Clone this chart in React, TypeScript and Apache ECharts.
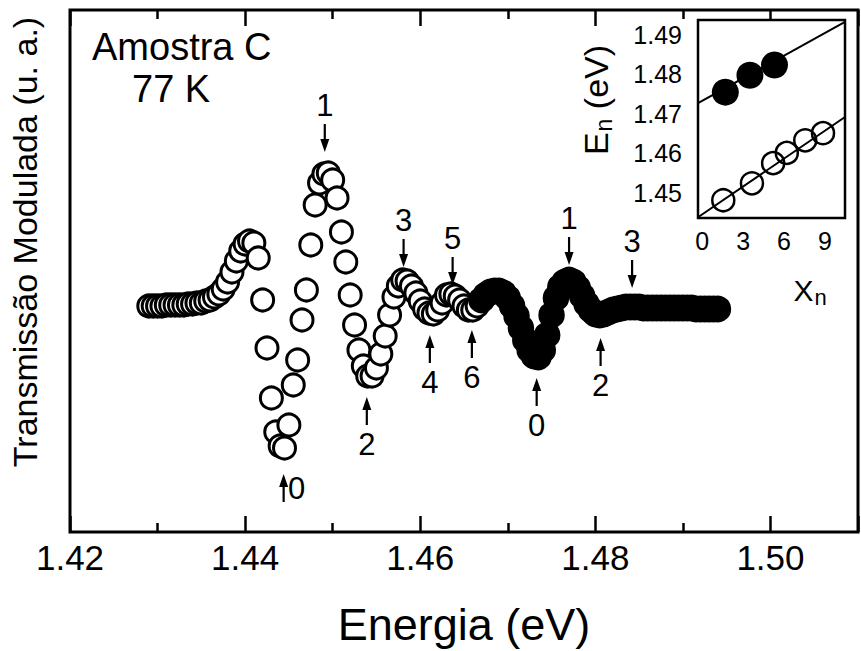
import React, { useEffect, useRef } from 'react';
import * as echarts from 'echarts';

const FONT = '"Liberation Sans", Arial, Helvetica, sans-serif';

// Main spectrum: photon energy (eV) and modulated transmission (arb. units)
const E_OPEN = [
  1.4290, 1.4295, 1.4300, 1.4305, 1.4310, 1.4315, 1.4320, 1.4325, 1.4330, 1.4335,
  1.4340, 1.4345, 1.4350, 1.4355, 1.4360, 1.4365, 1.4370, 1.4375, 1.4380, 1.4385,
  1.4390, 1.4395, 1.4400, 1.4405, 1.4410, 1.4415, 1.4420, 1.4425, 1.4430, 1.4435,
  1.4440, 1.4445, 1.4450, 1.4455, 1.4460, 1.4465, 1.4470, 1.4475, 1.4480, 1.4485,
  1.4490, 1.4495, 1.4500, 1.4505, 1.4510, 1.4515, 1.4520, 1.4525, 1.4530, 1.4535,
  1.4540, 1.4545, 1.4550, 1.4555, 1.4560, 1.4565, 1.4570, 1.4575, 1.4580, 1.4585,
  1.4590, 1.4595, 1.4600, 1.4605, 1.4610, 1.4615, 1.4620, 1.4625, 1.4630, 1.4635,
  1.4640, 1.4645, 1.4650, 1.4655, 1.4660, 1.4665,
];
const T_OPEN = [
  -1, -1, -1, -1, 0, 0, 0, 0, 0, 1,
  1, 2, 2, 4, 5, 8, 11, 16, 23, 33,
  44, 54, 61, 64, 62, 47, 5, -43, -93, -127,
  -141, -143, -120, -80, -55, -15, 15, 60, 100, 122,
  131, 132, 125, 107, 73, 43, 10, -20, -45, -61,
  -71, -71, -63, -49, -31, -10, 8, 19, 25, 24,
  19, 12, 4, -4, -8, -9, -5, 2, 10, 11,
  9, 5, -1, -5, -5, -1,
];
const E_FILLED = [
  1.4670, 1.4675, 1.4680, 1.4685, 1.4690, 1.4695, 1.4700, 1.4705, 1.4710, 1.4715,
  1.4720, 1.4725, 1.4730, 1.4735, 1.4740, 1.4745, 1.4750, 1.4755, 1.4760, 1.4765,
  1.4770, 1.4775, 1.4780, 1.4785, 1.4790, 1.4795, 1.4800, 1.4805, 1.4810, 1.4815,
  1.4820, 1.4825, 1.4830, 1.4835, 1.4840, 1.4845, 1.4850, 1.4855, 1.4860, 1.4865,
  1.4870, 1.4875, 1.4880, 1.4885, 1.4890, 1.4895, 1.4900, 1.4905, 1.4910, 1.4915,
  1.4920, 1.4925, 1.4930, 1.4935, 1.4940,
];
const T_FILLED = [
  5, 10, 13, 14, 14, 12, 7, -1, -11, -23,
  -35, -45, -51, -52, -45, -30, -10, 7, 18, 23,
  25, 23, 17, 9, 1, -5, -9, -10, -9, -7,
  -5, -4, -3, -2, -2, -2, -2, -3, -3, -3,
  -3, -3, -3, -3, -3, -3, -3, -3, -3, -4,
  -4, -4, -4, -4, -4,
];

// Annotations: label, energy, signal at arrow tip, direction
const ANN_LABELS = ['1', '3', '5', '1', '3', '2', '4', '6', '0', '2', '0'];
const ANN_E = [1.4491, 1.4581, 1.4637, 1.4770, 1.4842, 1.4539, 1.4611, 1.4659, 1.4733, 1.4806, 1.4444];
const ANN_T = [153, 38, 20, 40, 17, -92, -30, -25, -73, -33, -169];
const ANN_DIR = ['down', 'down', 'down', 'down', 'down', 'up', 'up', 'up', 'up', 'up', 'side'];

// Inset: E_n versus X_n
const INSET_X_FILLED = [1.7, 3.5, 5.3];
const INSET_E_FILLED = [1.4755, 1.4798, 1.4824];
const INSET_X_OPEN = [1.55, 3.65, 5.2, 6.2, 7.55, 8.85];
const INSET_E_OPEN = [1.4481, 1.4524, 1.4575, 1.4601, 1.4633, 1.4651];
const FIT_UPPER_X = [-0.3, 10.46];
const FIT_UPPER_E = [1.4727, 1.4933];
const FIT_LOWER_X = [-0.3, 10.46];
const FIT_LOWER_E = [1.4438, 1.4692];

const zip = (a: number[], b: number[]) => a.map((v, i) => [v, b[i]]);

export default function App() {
  const ref = useRef<HTMLDivElement>(null);
  useEffect(() => {
    document.body.style.margin = '0';
    if (!ref.current) return;
    const chart = echarts.init(ref.current, undefined, { renderer: 'svg' });

    const tickStyle = { color: '#000', width: 2.5 };
    const mainX = (position: 'bottom' | 'top', showLabel: boolean) => ({
      gridIndex: 0,
      type: 'value',
      min: 1.42,
      max: 1.51,
      interval: 0.02,
      position,
      axisLine: { show: false, onZero: false },
      axisTick: { show: true, inside: true, length: 16, lineStyle: tickStyle },
      minorTick: { show: true, splitNumber: 2, length: 9, lineStyle: tickStyle },
      splitLine: { show: false },
      minorSplitLine: { show: false },
      axisLabel: {
        show: showLabel,
        fontSize: 35,
        fontFamily: FONT,
        color: '#000',
        margin: 8,
        showMaxLabel: false,
        formatter: (v: number) => v.toFixed(2),
      },
    });
    const insetTick = { color: '#000', width: 2 };
    const insetX = (position: 'bottom' | 'top', showLabel: boolean) => ({
      gridIndex: 1,
      type: 'value',
      min: -0.3,
      max: 10.46,
      splitNumber: 4,
      position,
      axisLine: { show: false, onZero: false },
      axisTick: { show: true, inside: true, length: 9, lineStyle: insetTick },
      minorTick: { show: true, splitNumber: 2, length: 6, lineStyle: insetTick },
      splitLine: { show: false },
      minorSplitLine: { show: false },
      axisLabel: {
        show: showLabel,
        fontSize: 25,
        fontFamily: FONT,
        color: '#000',
        margin: 10,
        showMinLabel: false,
        showMaxLabel: false,
        formatter: (v: number) => String(Math.round(v)),
      },
    });
    const insetY = (position: 'left' | 'right', showLabel: boolean) => ({
      gridIndex: 1,
      type: 'value',
      min: 1.4436,
      max: 1.4938,
      splitNumber: 5,
      position,
      axisLine: { show: false, onZero: false },
      axisTick: { show: true, inside: true, length: 9, lineStyle: insetTick },
      minorTick: { show: true, splitNumber: 2, length: 6, lineStyle: insetTick },
      splitLine: { show: false },
      minorSplitLine: { show: false },
      axisLabel: {
        show: showLabel,
        fontSize: 25,
        fontFamily: FONT,
        color: '#000',
        margin: 16,
        showMinLabel: false,
        showMaxLabel: false,
        formatter: (v: number) => v.toFixed(2),
      },
    });

    const option: any = {
      animation: false,
      backgroundColor: '#fff',
      grid: [
        { left: 70, top: 10, width: 788, height: 522, show: true, borderColor: '#000', borderWidth: 3, backgroundColor: 'transparent' },
        { left: 698, top: 20, width: 147, height: 198, show: true, borderColor: '#000', borderWidth: 2.5, backgroundColor: '#fff', z: 5 },
      ],
      xAxis: [mainX('bottom', true), mainX('top', false), insetX('bottom', true), insetX('top', false)],
      yAxis: [
        { gridIndex: 0, type: 'value', min: -227, max: 295, axisLine: { show: false, onZero: false }, axisTick: { show: false }, axisLabel: { show: false }, splitLine: { show: false } },
        insetY('left', true),
        insetY('right', false),
      ],
      series: [
        {
          type: 'scatter', xAxisIndex: 0, yAxisIndex: 0,
          data: zip(E_OPEN, T_OPEN), symbol: 'circle', symbolSize: 22,
          itemStyle: { color: '#fff', borderColor: '#000', borderWidth: 3, opacity: 1 },
          z: 3,
        },
        {
          type: 'scatter', xAxisIndex: 0, yAxisIndex: 0,
          data: zip(E_FILLED, T_FILLED), symbol: 'circle', symbolSize: 25,
          itemStyle: { color: '#000', borderColor: '#000', borderWidth: 1.5, opacity: 1 },
          z: 3,
        },
        {
          type: 'scatter', xAxisIndex: 2, yAxisIndex: 1,
          data: zip(INSET_X_OPEN, INSET_E_OPEN), symbol: 'circle', symbolSize: 22,
          itemStyle: { color: 'rgba(255,255,255,0)', borderColor: '#000', borderWidth: 2.5, opacity: 1 },
          z: 6,
        },
        {
          type: 'scatter', xAxisIndex: 2, yAxisIndex: 1,
          data: zip(INSET_X_FILLED, INSET_E_FILLED), symbol: 'circle', symbolSize: 27,
          itemStyle: { color: '#000', opacity: 1 },
          z: 6,
        },
        {
          type: 'line', xAxisIndex: 2, yAxisIndex: 1, data: zip(FIT_UPPER_X, FIT_UPPER_E),
          symbol: 'none', lineStyle: { color: '#000', width: 2 }, clip: true, z: 7,
        },
        {
          type: 'line', xAxisIndex: 2, yAxisIndex: 1, data: zip(FIT_LOWER_X, FIT_LOWER_E),
          symbol: 'none', lineStyle: { color: '#000', width: 2 }, clip: true, z: 7,
        },
      ],
    };
    chart.setOption(option);

    const graphics: any[] = [];
    const txt = (text: string, x: number, y: number, size: number, align = 'center', extra: any = {}) => ({
      type: 'text', x, y, z: 20, ...extra,
      style: { text, fontSize: size, fontFamily: FONT, fill: '#000', align, verticalAlign: 'middle' },
    });
    graphics.push(txt('Amostra C', 92, 47, 38, 'left'));
    graphics.push(txt('77 K', 132, 89, 38, 'left'));
    graphics.push(txt('Energia (eV)', 464, 624, 45, 'center'));
    graphics.push(txt('Transmissão Modulada (u. a.)', 25, 242, 34, 'center', { rotation: Math.PI / 2 }));

    // Inset axis titles
    graphics.push({
      type: 'text', x: 810, y: 290, z: 20,
      style: {
        text: '{a|X}{b|n}', align: 'center', verticalAlign: 'middle',
        rich: {
          a: { fontSize: 30, fontFamily: FONT, fill: '#000', color: '#000' },
          b: { fontSize: 22, fontFamily: FONT, fill: '#000', color: '#000', padding: [14, 0, 0, 1] },
        },
      },
    });
    graphics.push({
      type: 'text', x: 596, y: 100, z: 20, rotation: Math.PI / 2,
      style: {
        text: '{a|E}{b|n}{a| (eV)}', align: 'center', verticalAlign: 'middle',
        rich: {
          a: { fontSize: 34, fontFamily: FONT, fill: '#000', color: '#000' },
          b: { fontSize: 23, fontFamily: FONT, fill: '#000', color: '#000', padding: [15, 0, 0, 1] },
        },
      },
    });

    // Arrows with labels
    const SHAFT = 28;
    ANN_LABELS.forEach((label, i) => {
      const p = chart.convertToPixel({ xAxisIndex: 0, yAxisIndex: 0 }, [ANN_E[i], ANN_T[i]]) as number[];
      const x = p[0];
      const tip = p[1];
      const dir = ANN_DIR[i];
      const sgn = dir === 'down' ? -1 : 1; // base is above tip for down arrows
      const base = tip + sgn * SHAFT;
      const headEnd = tip + sgn * 12;
      graphics.push({
        type: 'line', z: 20,
        shape: { x1: x, y1: base, x2: x, y2: headEnd },
        style: { stroke: '#000', lineWidth: 2.2 },
      });
      graphics.push({
        type: 'polygon', z: 20,
        shape: { points: [[x - 4.5, headEnd + sgn * 1], [x + 4.5, headEnd + sgn * 1], [x, tip]] },
        style: { fill: '#000' },
      });
      if (dir === 'side') {
        graphics.push(txt(label, x + 13, tip + 14, 31, 'center'));
      } else {
        graphics.push(txt(label, x, tip + sgn * 47, 31, 'center'));
      }
    });

    chart.setOption({ graphic: graphics });
    return () => chart.dispose();
  }, []);
  return <div ref={ref} style={{ width: 861, height: 651 }} />;
}
